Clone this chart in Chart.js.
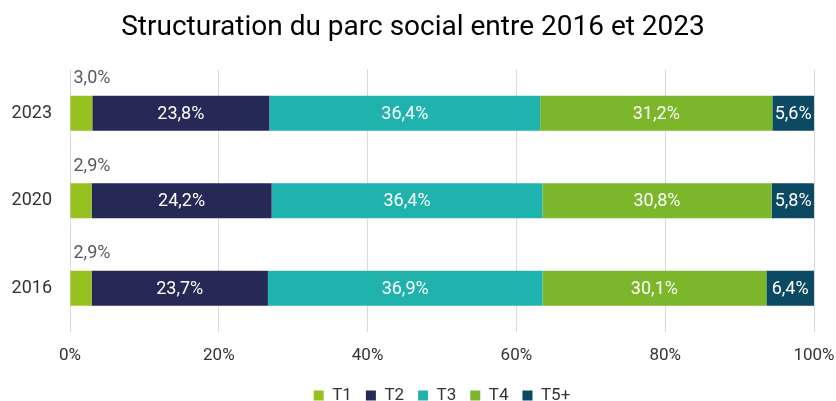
<!DOCTYPE html>
<html lang="fr">
<head>
    <meta charset="UTF-8">
    <title>Structuration du parc social</title>
    <script src="https://cdn.jsdelivr.net/npm/chart.js"></script>
    <style>
        body { margin: 0; background: #fff; }
        #wrap { width: 836px; height: 401px; }
    </style>
</head>
<body>
    <div id="wrap"><canvas id="chart"></canvas></div>
    <script>
        const years = ['2023', '2020', '2016'];
        const t1 = [3.0, 2.9, 2.9];
        const t2 = [23.8, 24.2, 23.7];
        const t3 = [36.4, 36.4, 36.9];
        const t4 = [31.2, 30.8, 30.1];
        const t5 = [5.6, 5.8, 6.4];
        const xTicks = [0, 20, 40, 60, 80, 100];

        const fmt = v => v.toFixed(1).replace('.', ',') + '%';

        // étiquettes des valeurs (T1 au-dessus de la barre, les autres dedans)
        const labelsPlugin = {
            id: 'valeurs',
            afterDatasetsDraw(chart) {
                const ctx = chart.ctx;
                ctx.save();
                ctx.font = '18px Roboto';
                ctx.textBaseline = 'middle';
                chart.data.datasets.forEach((ds, i) => {
                    chart.getDatasetMeta(i).data.forEach((bar, j) => {
                        const v = ds.data[j];
                        if (i === 0) {
                            ctx.fillStyle = '#595959';
                            ctx.textAlign = 'left';
                            ctx.fillText(fmt(v), bar.base + 3, bar.y - bar.height / 2 - 17);
                        } else {
                            ctx.fillStyle = '#ffffff';
                            ctx.textAlign = 'center';
                            ctx.fillText(fmt(v), (bar.x + bar.base) / 2, bar.y + 1);
                        }
                    });
                });
                ctx.restore();
            }
        };

        new Chart(document.getElementById('chart'), {
            type: 'bar',
            data: {
                labels: years,
                datasets: [
                    { label: 'T1', data: t1, backgroundColor: '#96c11f' },
                    { label: 'T2', data: t2, backgroundColor: '#262856' },
                    { label: 'T3', data: t3, backgroundColor: '#20b3ae' },
                    { label: 'T4', data: t4, backgroundColor: '#7cb62b' },
                    { label: 'T5+', data: t5, backgroundColor: '#0b4a62' }
                ]
            },
            options: {
                indexAxis: 'y',
                responsive: true,
                maintainAspectRatio: false,
                animation: false,
                layout: { padding: { left: 12, right: 22, top: 0, bottom: -13 } },
                datasets: { bar: { categoryPercentage: 1, barPercentage: 0.4 } },
                plugins: {
                    title: {
                        display: true,
                        text: 'Structuration du parc social entre 2016 et 2023',
                        color: '#000000',
                        font: { family: 'Roboto', size: 28, weight: 'normal' },
                        padding: { top: 11, bottom: 25 }
                    },
                    legend: {
                        position: 'bottom',
                        fullSize: false,
                        labels: {
                            color: '#333333',
                            font: { family: 'Roboto', size: 17 },
                            boxWidth: 10,
                            boxHeight: 10,
                            padding: 14
                        }
                    },
                    tooltip: { enabled: false }
                },
                scales: {
                    x: {
                        stacked: true,
                        min: 0,
                        max: 100,
                        afterBuildTicks: axis => { axis.ticks = xTicks.map(v => ({ value: v })); },
                        afterFit: axis => { axis.height = 41; },
                        grid: { color: '#d9d9d9', drawTicks: true, tickLength: 14, tickColor: 'rgba(0,0,0,0)' },
                        border: { display: false },
                        ticks: {
                            color: '#333333',
                            font: { family: 'Roboto', size: 17 },
                            padding: 0,
                            maxRotation: 0,
                            callback: v => v + '%'
                        }
                    },
                    y: {
                        stacked: true,
                        afterFit: axis => { axis.width = 58; },
                        grid: { display: false, drawTicks: false },
                        border: { display: false },
                        ticks: {
                            color: '#333333',
                            font: { family: 'Roboto', size: 18 },
                            padding: 18
                        }
                    }
                }
            },
            plugins: [labelsPlugin]
        });
    </script>
</body>
</html>
